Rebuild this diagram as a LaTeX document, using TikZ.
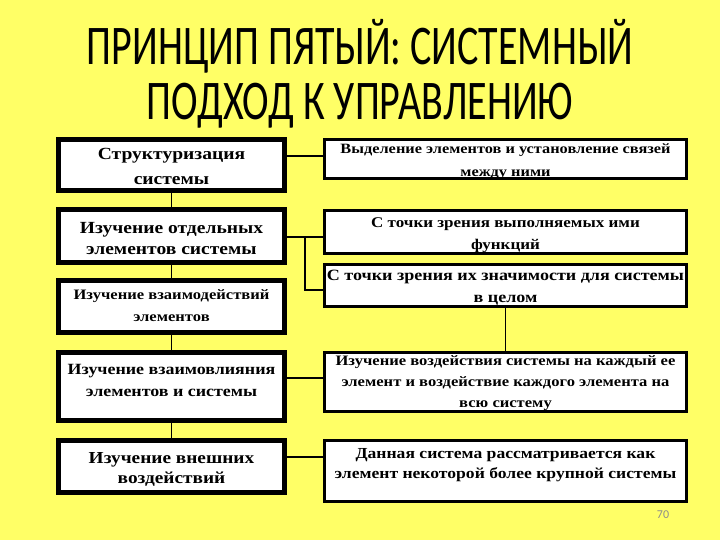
\documentclass[tikz,border=0pt]{standalone}
\usepackage{fontspec}
\usepackage{graphicx}
\setmainfont{Liberation Serif}
\newfontfamily\titlefont{Carlito}
\newfontfamily\boxfont{Liberation Serif}[FakeStretch=1.15]
\usetikzlibrary{positioning}
\definecolor{slideyellow}{HTML}{FFFF66}
\definecolor{pagegray}{HTML}{8C8C8C}

\begin{document}
\begin{tikzpicture}[x=1pt, y=-1pt,
  leftbox/.style={draw=black, line width=5pt, fill=white, minimum width=226pt, inner sep=0pt},
  rightbox/.style={draw=black, line width=3pt, fill=white, minimum width=362pt, inner sep=0pt},
  boxtext/.style 2 args={font=\boxfont\bfseries\fontsize{#1}{#2}\selectfont, align=center},
  link/.style={draw=black, line width=1.2pt}]

  % Slide background
  \fill[slideyellow] (0,0) rectangle (720,540);
  \useasboundingbox (0,0) rectangle (720,540);

  % Title
  \node[anchor=base, font=\titlefont\fontsize{40}{44}\selectfont] (title1) at (360,65)
        {\scalebox{1}[1.4]{ПРИНЦИП ПЯТЫЙ: СИСТЕМНЫЙ}};
  \node[anchor=base, font=\titlefont\fontsize{40}{44}\selectfont] (title2) at (360,120)
        {\scalebox{1}[1.4]{ПОДХОД К УПРАВЛЕНИЮ}};

  % Left column
  \node[leftbox, minimum height=51pt] (L1) at (171.5,165)   {};
  \node[leftbox, minimum height=53pt] (L2) at (171.5,236)   {};
  \node[leftbox, minimum height=52pt] (L3) at (171.5,306.5) {};
  \node[leftbox, minimum height=68pt] (L4) at (171.5,386.5) {};
  \node[leftbox, minimum height=52pt] (L5) at (171.5,466.5) {};

  \node[boxtext={17}{25}]   (L1t) at ([yshift=-1pt]L1.center) {Структуризация\\системы};
  \node[boxtext={17}{21}]   (L2t) at ([yshift=-3pt]L2.center) {Изучение отдельных\\элементов системы};
  \node[boxtext={14.4}{22}] (L3t) at ([yshift=1pt]L3.center) {Изучение взаимодействий\\элементов};
  \node[boxtext={15.6}{22}] (L4t) at ([yshift=6pt]L4.center) {Изучение взаимовлияния\\элементов и системы};
  \node[boxtext={16.8}{20}] (L5t) at ([yshift=-3pt]L5.center) {Изучение внешних\\воздействий};

  % Right column
  \node[rightbox, minimum height=39pt] (R1) at (505.5,159)   {};
  \node[rightbox, minimum height=43pt] (R2) at (505.5,232)   {};
  \node[rightbox, minimum height=42pt] (R3) at (505.5,285.5) {};
  \node[rightbox, minimum height=59pt] (R4) at (505.5,382)   {};
  \node[rightbox, minimum height=61pt] (R5) at (505.5,471)   {};

  \node[boxtext={14.2}{23}] (R1t) at ([yshift=-3pt]R1.center) {Выделение элементов и установление связей\\между ними};
  \node[boxtext={14.8}{22}] (R2t) at ([yshift=-3pt]R2.center) {С точки зрения выполняемых ими\\функций};
  \node[boxtext={15.7}{22}] (R3t) at ([yshift=-2pt]R3.center) {С точки зрения их значимости для системы\\в целом};
  \node[boxtext={14.4}{21}] (R4t) at ([yshift=-1pt]R4.center) {Изучение воздействия системы на каждый ее\\элемент и воздействие каждого элемента на\\всю систему};
  \node[boxtext={15.3}{20}] (R5t) at ([yshift=6pt]R5.center) {Данная система рассматривается как\\элемент некоторой более крупной системы};

  % Connectors
  \draw[link] (L1.south) -- (L2.north);
  \draw[link] (L2.south) -- (L3.north);
  \draw[link] (L3.south) -- (L4.north);
  \draw[link] (L4.south) -- (L5.north);
  \draw[link] (R3.south) -- (R4.north);

  \coordinate (forktop) at (305,237);
  \coordinate (forkbot) at (305,290);
  \draw[link] ([yshift=3pt]R1.west) -- ([yshift=3pt]R1.west -| L1.east);
  \draw[link] (L2.east |- forktop) -- (forktop) -- (forktop -| R2.west);
  \draw[link] (forktop) -- (forkbot) -- (forkbot -| R3.west);
  \draw[link] ([yshift=4pt]R4.west) -- ([yshift=4pt]R4.west -| L4.east);
  \draw[link] ([yshift=14pt]R5.west) -- ([yshift=14pt]R5.west -| L5.east);

  % Page number
  \node[font=\titlefont\fontsize{12}{14}\selectfont, text=pagegray] (pagenum) at (663,515) {70};
\end{tikzpicture}
\end{document}
